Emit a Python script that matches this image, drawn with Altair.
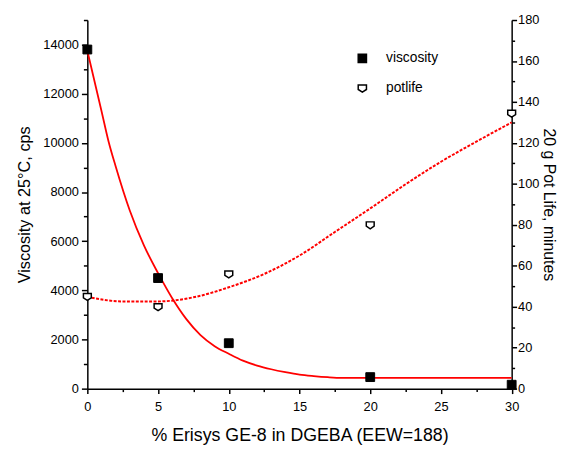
import altair as alt
import pandas as pd

# measured data
pct = [0, 5, 10, 20, 30]
viscosity = [13800, 4500, 1850, 470, 160]
potlife = [45, 40, 56, 80, 134.5]

# fitted curves
visc_fit_x = [0, 1, 1.5, 2, 3, 4, 5, 6, 7, 8, 9, 10, 11, 12, 13, 14, 15, 16, 17, 18, 30]
visc_fit_y = [13750, 11300, 10060, 9050, 7250, 5830, 4700, 3680, 2830, 2180, 1730, 1420, 1140, 940,
              790, 670, 570, 510, 465, 440, 440]
pot_fit_x = [0, 2.5, 5, 7.5, 10, 12.5, 15, 17.5, 20, 22.5, 25, 27.5, 30]
pot_fit_y = [44.8, 42.6, 42.6, 44.6, 49.5, 56, 65, 76.5, 88, 99.8, 110.8, 120.6, 130]

series = ["viscosity", "potlife"]

visc_pts = pd.DataFrame({"x": pct, "y": viscosity, "series": "viscosity"})
pot_pts = pd.DataFrame({"x": pct, "y": potlife, "series": "potlife"})
visc_fit = pd.DataFrame({"x": visc_fit_x, "y": visc_fit_y})
pot_fit = pd.DataFrame({"x": pot_fit_x, "y": pot_fit_y})

FONT = "Liberation Sans"
shield = "M-1,-0.75L1,-0.75L1,0.35L0,1L-1,0.35Z"

x_enc = alt.X(
    "x:Q",
    scale=alt.Scale(domain=[0, 30], nice=False, zero=False),
    axis=alt.Axis(
        title="% Erisys GE-8 in DGEBA (EEW=188)",
        titleFontSize=18,
        values=[i * 2.5 for i in range(13)],
        labelExpr="datum.value % 5 == 0 ? format(datum.value, 'd') : ''",
        tickSize=alt.ExprRef("datum.value % 5 == 0 ? 5 : 3"),
        labelFlush=False,
        titlePadding=14,
        labelPadding=7,
    ),
)

left_axis = alt.Axis(
    title="Viscosity at 25°C, cps",
    titleFontSize=16.5,
    orient="left",
    values=list(range(0, 15001, 1000)),
    labelExpr="datum.value % 2000 == 0 ? format(datum.value, 'd') : ''",
    tickSize=alt.ExprRef("datum.value % 2000 == 0 ? 6 : 4"),
    labelFlush=False,
    titlePadding=10.5,
    labelPadding=3,
)
right_axis = alt.Axis(
    title="20 g Pot Life, minutes",
    titleFontSize=16,
    orient="right",
    values=list(range(0, 181, 10)),
    labelExpr="datum.value % 20 == 0 ? format(datum.value, 'd') : ''",
    tickSize=alt.ExprRef("datum.value % 20 == 0 ? 5 : 3"),
    labelFlush=False,
    titlePadding=2,
    labelPadding=1,
)

legend = alt.Legend(
    title=None,
    orient="none",
    legendX=272,
    legendY=32,
    labelFontSize=14,
    labelFont=FONT,
    labelOffset=17,
    rowPadding=15,
    symbolSize=70,
    symbolStrokeWidth=1.5,
    padding=0,
)

shape_enc = alt.Shape("series:N", scale=alt.Scale(domain=series, range=["square", shield]), legend=legend)
fill_enc = alt.Fill("series:N", scale=alt.Scale(domain=series, range=["black", "white"]), legend=legend)
stroke_enc = alt.Stroke("series:N", scale=alt.Scale(domain=series, range=["black", "black"]), legend=legend)

y_left = alt.Y("y:Q", scale=alt.Scale(domain=[0, 15000], nice=False), axis=left_axis)
y_right = alt.Y("y:Q", scale=alt.Scale(domain=[0, 180], nice=False), axis=right_axis)

vline = alt.Chart(visc_fit).mark_line(color="red", strokeWidth=1.8, interpolate="monotone").encode(
    x=x_enc, y=y_left
)
vpts = alt.Chart(visc_pts).mark_point(filled=True, size=80, strokeWidth=1, opacity=1).encode(
    x=x_enc, y=y_left, shape=shape_enc, fill=fill_enc, stroke=stroke_enc
)
pline = alt.Chart(pot_fit).mark_line(
    color="red", strokeWidth=2, strokeDash=[3, 1.5], interpolate="monotone"
).encode(x=x_enc, y=y_right)
ppts = alt.Chart(pot_pts).mark_point(filled=True, size=64, strokeWidth=1.5, opacity=1).encode(
    x=x_enc, y=y_right, shape=shape_enc, fill=fill_enc, stroke=stroke_enc
)

left = alt.layer(vline, vpts)
right = alt.layer(pline, ppts)

chart = (
    alt.layer(left, right)
    .resolve_scale(y="independent")
    .properties(
        width=557,
        height=440,
        autosize=alt.AutoSizeParams(type="fit", contains="padding"),
        padding={"left": 8.5, "top": 3, "right": 0, "bottom": 0},
    )
    .configure_view(stroke=None)
    .configure_axis(
        grid=False,
        domainColor="black",
        domainWidth=1.5,
        tickColor="black",
        tickWidth=1.5,
        labelFont=FONT,
        labelFontSize=13,
        labelColor="black",
        titleFont=FONT,
        titleFontSize=17,
        titleFontWeight="normal",
        titleColor="black",
    )
    .configure_legend(labelColor="black")
)

chart.save("out.html", embed_options={"renderer": "svg", "actions": False})
